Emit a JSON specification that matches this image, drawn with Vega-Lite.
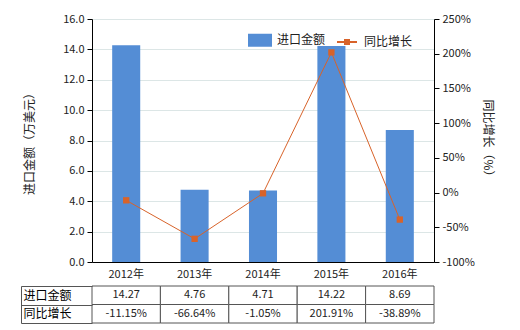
{
  "$schema": "https://vega.github.io/schema/vega-lite/v6.json",
  "padding": {"left": 20, "top": 13, "right": 5, "bottom": 5},
  "background": "white",
  "config": {
    "font": "Noto Sans CJK SC",
    "view": {"stroke": null},
    "axis": {"labelFont": "Noto Sans CJK SC", "titleFont": "Noto Sans CJK SC", "labelColor": "#222", "titleColor": "#222", "labelFontSize": 11, "titleFontSize": 12, "titleFontWeight": "normal", "domainColor": "#000", "tickColor": "#000"},
    "legend": {"labelFont": "Noto Sans CJK SC", "labelFontSize": 12, "labelColor": "#222"}
  },
  "data": {
    "values": [
      {"year": "2012年", "amount": 14.27, "growth": -11.15, "进口金额": "14.27", "同比增长": "-11.15%"},
      {"year": "2013年", "amount": 4.76, "growth": -66.64, "进口金额": "4.76", "同比增长": "-66.64%"},
      {"year": "2014年", "amount": 4.71, "growth": -1.05, "进口金额": "4.71", "同比增长": "-1.05%"},
      {"year": "2015年", "amount": 14.22, "growth": 201.91, "进口金额": "14.22", "同比增长": "201.91%"},
      {"year": "2016年", "amount": 8.69, "growth": -38.89, "进口金额": "8.69", "同比增长": "-38.89%"}
    ]
  },
  "spacing": 1,
  "resolve": {"scale": {"x": "independent", "y": "independent", "color": "independent"}},
  "vconcat": [
    {
      "width": 342,
      "height": 243,
      "encoding": {
        "x": {"field": "year", "type": "nominal", "sort": null,
          "scale": {"type": "band", "paddingInner": 0.59, "paddingOuter": 0.295},
          "axis": {"title": null, "labelAngle": 0, "ticks": false, "labelPadding": 6, "domainColor": "#000"}}
      },
      "layer": [
        {
          "mark": {"type": "bar", "color": "#548DD5"},
          "encoding": {
            "y": {"field": "amount", "type": "quantitative",
              "scale": {"domain": [0, 16], "nice": false},
              "axis": {"title": "进口金额（万美元）", "values": [0, 2, 4, 6, 8, 10, 12, 14, 16], "format": ".1f", "gridColor": "#DCE6E6", "titlePadding": 26, "labelPadding": 3, "tickSize": 5}},
            "color": {"datum": "进口金额", "type": "nominal",
              "scale": {"domain": ["进口金额", "同比增长"], "range": ["#548DD5", "#D8632A"]},
              "legend": {
                "title": null, "orient": "none", "legendX": 157, "legendY": 10, "direction": "horizontal", "columns": 2,
                "symbolSize": 484, "labelOffset": 6, "columnPadding": 7,
                "encode": {"symbols": {"update": {
                  "shape": {"signal": "datum.value === '进口金额' ? 'M-1,-0.5H1V0.5H-1Z' : 'M-1,0H1M-0.2,-0.2H0.2V0.2H-0.2Z'"},
                  "size": {"signal": "datum.value === '进口金额' ? 484 : 400"},
                  "fill": {"signal": "datum.value === '进口金额' ? '#548DD5' : '#C8500F'"},
                  "stroke": {"signal": "datum.value === '进口金额' ? 'transparent' : '#D8632A'"},
                  "strokeWidth": {"value": 2},
                  "opacity": {"value": 1}
                }}}
              }}
          }
        },
        {
          "mark": {"type": "line", "color": "#D8632A", "strokeWidth": 1,
            "point": {"shape": "square", "size": 40, "filled": true, "color": "#C8500F", "opacity": 1}},
          "encoding": {
            "y": {"field": "growth", "type": "quantitative",
              "scale": {"domain": [-100, 250], "nice": false},
              "axis": {"orient": "right", "title": "同比增长（%）", "titleAngle": 90, "titlePadding": 6, "values": [-100, -50, 0, 50, 100, 150, 200, 250], "labelExpr": "datum.value + '%'", "grid": false, "labelPadding": 3, "tickSize": 5}},
            "color": {"datum": "同比增长", "type": "nominal"}
          }
        }
      ],
      "resolve": {"scale": {"y": "independent"}}
    },
    {
      "width": 342,
      "height": 37,
      "transform": [{"fold": ["进口金额", "同比增长"], "as": ["row", "text"]}],
      "encoding": {
        "x": {"field": "year", "type": "nominal", "sort": null,
          "scale": {"type": "band", "paddingInner": 0, "paddingOuter": 0}, "axis": null},
        "y": {"field": "row", "type": "nominal", "sort": ["进口金额", "同比增长"],
          "scale": {"type": "band", "paddingInner": 0, "paddingOuter": 0},
          "axis": {"title": null, "orient": "left", "offset": 71, "tickSize": -71, "tickBand": "extent", "labelAlign": "left", "labelPadding": 69, "labelFontSize": 12, "labelColor": "#000", "domainColor": "#555", "tickColor": "#555", "grid": false}}
      },
      "layer": [
        {"mark": {"type": "rect", "fill": "white", "stroke": "#555", "strokeWidth": 1}},
        {"mark": {"type": "text", "fontSize": 11, "color": "#222", "font": "Noto Sans CJK SC"},
          "encoding": {"text": {"field": "text", "type": "nominal"}}}
      ]
    }
  ]
}
